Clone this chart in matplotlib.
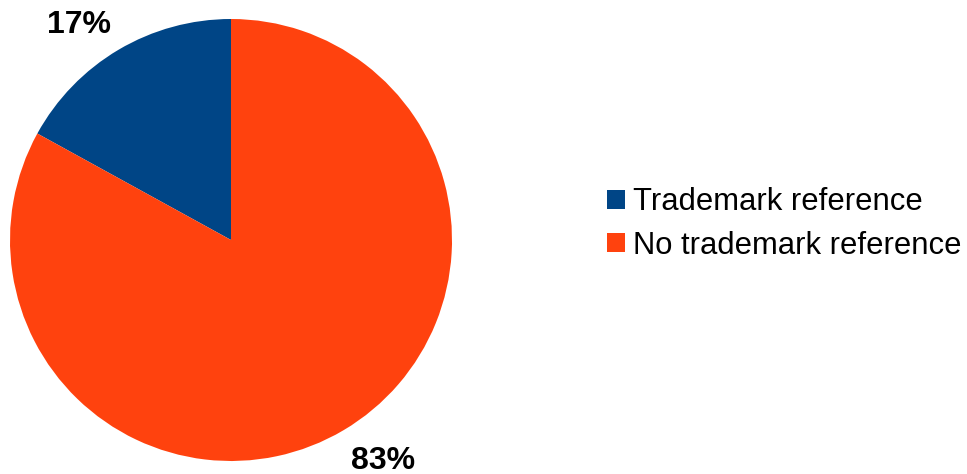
import numpy as np
import matplotlib
matplotlib.use('Agg')
import matplotlib.pyplot as plt
from matplotlib.patches import Patch

plt.rcParams['font.family'] = ['Liberation Sans', 'DejaVu Sans']

labels = ['Trademark reference', 'No trademark reference']
shares = [17, 83]
colors = ['#004586', '#ff420e']

W, H = 967, 474
fig = plt.figure(figsize=(W / 100, H / 100), dpi=100)

# pie drawn in an axes box that is exactly the circle's bounding square
cx, cy, r = 231, 240, 221
ax = fig.add_axes([(cx - r) / W, (H - cy - r) / H, 2 * r / W, 2 * r / H])
wedges, _ = ax.pie(shares, colors=colors, startangle=90, counterclock=True,
                   radius=1.0, wedgeprops=dict(linewidth=0))
ax.set_xlim(-1, 1)
ax.set_ylim(-1, 1)
ax.set_aspect('equal')
ax.axis('off')

# percentage labels just outside each wedge's middle
for w, v in zip(wedges, shares):
    theta = np.deg2rad((w.theta1 + w.theta2) / 2)
    x, y = 1.07 * np.cos(theta), 1.07 * np.sin(theta)
    dy = -0.015 if y > 0 else -0.01
    ax.text(x, y + dy, f'{v}%', fontsize=23, fontweight='bold',
            ha='left' if x > 0 else 'right',
            va='bottom' if y > 0 else 'top', clip_on=False)

handles = [Patch(facecolor=c, edgecolor='none') for c in colors]
fig.legend(handles, labels, loc='center left', bbox_to_anchor=(607 / W, 1 - 224 / H),
           frameon=False, fontsize=22.3, handlelength=0.58, handleheight=0.58,
           handletextpad=0.26, borderpad=0, borderaxespad=0, labelspacing=0.42)

fig.savefig('out.png', dpi=100)
